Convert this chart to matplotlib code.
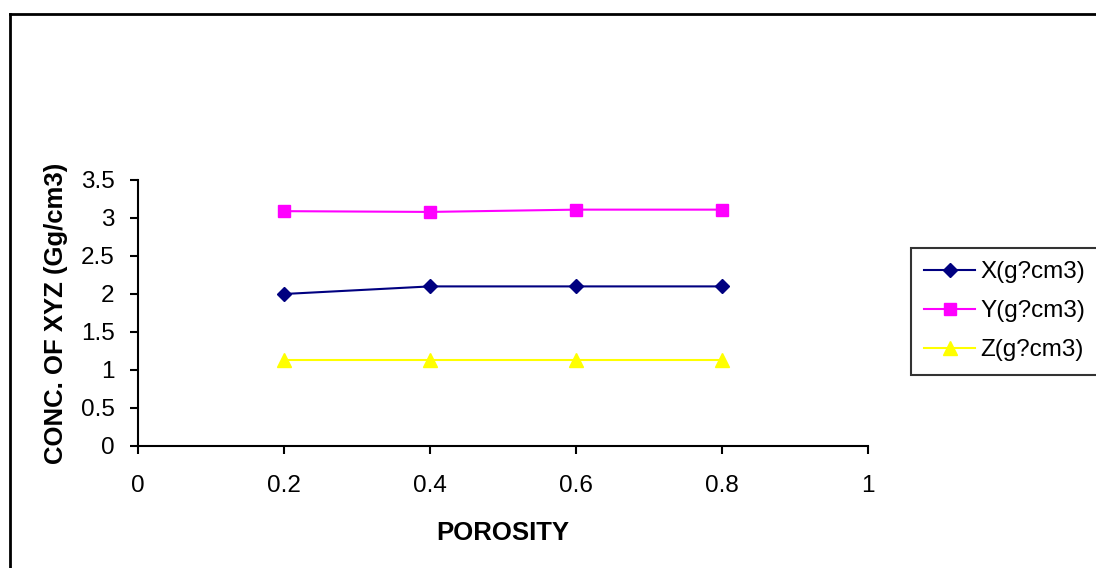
import matplotlib
matplotlib.use("Agg")
import matplotlib.pyplot as plt
from matplotlib.lines import Line2D

porosity = [0.2, 0.4, 0.6, 0.8]
x_conc = [2.0, 2.1, 2.1, 2.1]
y_conc = [3.09, 3.08, 3.11, 3.11]
z_conc = [1.13, 1.13, 1.13, 1.13]
x_ticks = [0, 0.2, 0.4, 0.6, 0.8, 1]
y_ticks = [0, 0.5, 1, 1.5, 2, 2.5, 3, 3.5]

plt.rcParams["font.family"] = ["Liberation Sans", "DejaVu Sans"]

fig = plt.figure(figsize=(10.96, 5.68), dpi=100)
ax = fig.add_axes([138 / 1096, 122 / 568, 730 / 1096, 266 / 568])

ax.plot(porosity, x_conc, color="#000080", marker="D", markersize=7.5, lw=1.5, label="X(g?cm3)")
ax.plot(porosity, y_conc, color="#FF00FF", marker="s", markersize=8, lw=1.5, label="Y(g?cm3)")
ax.plot(porosity, z_conc, color="#FFFF00", marker="^", markersize=10.5, lw=1.5, label="Z(g?cm3)")

ax.set_xlim(0, 1)
ax.set_ylim(0, 3.5)
ax.set_xticks(x_ticks)
ax.set_xticklabels(["0", "0.2", "0.4", "0.6", "0.8", "1"])
ax.set_yticks(y_ticks)
ax.set_yticklabels(["0", "0.5", "1", "1.5", "2", "2.5", "3", "3.5"])
ax.spines["top"].set_visible(False)
ax.spines["right"].set_visible(False)
ax.spines["left"].set_linewidth(1.5)
ax.spines["bottom"].set_linewidth(1.5)
ax.tick_params(direction="out", length=6, width=1.5, labelsize=17.5)
ax.tick_params(axis="y", pad=11)
ax.tick_params(axis="x", pad=15)

ax.set_xlabel("POROSITY", fontsize=18.5, fontweight="bold", labelpad=17)
ax.set_ylabel("CONC. OF XYZ (Gg/cm3)", fontsize=18.5, fontweight="bold", labelpad=9)

leg = ax.legend(loc="upper left", bbox_to_anchor=(911 / 1096, 1 - 248 / 568),
                bbox_transform=fig.transFigure, fontsize=17.5,
                frameon=True, fancybox=False, edgecolor="black", handlelength=2.1,
                handletextpad=0.2, borderpad=0.55, labelspacing=0.7, borderaxespad=0)
leg.get_frame().set_linewidth(1.5)

# outer chart frame (only left and top edges are visible in the crop)
fig.add_artist(Line2D([10 / 1096, 10 / 1096], [0, 1 - 14 / 568], transform=fig.transFigure, color="black", lw=2))
fig.add_artist(Line2D([10 / 1096, 1], [1 - 14 / 568, 1 - 14 / 568], transform=fig.transFigure, color="black", lw=2))

fig.savefig("out.png", dpi=100)
